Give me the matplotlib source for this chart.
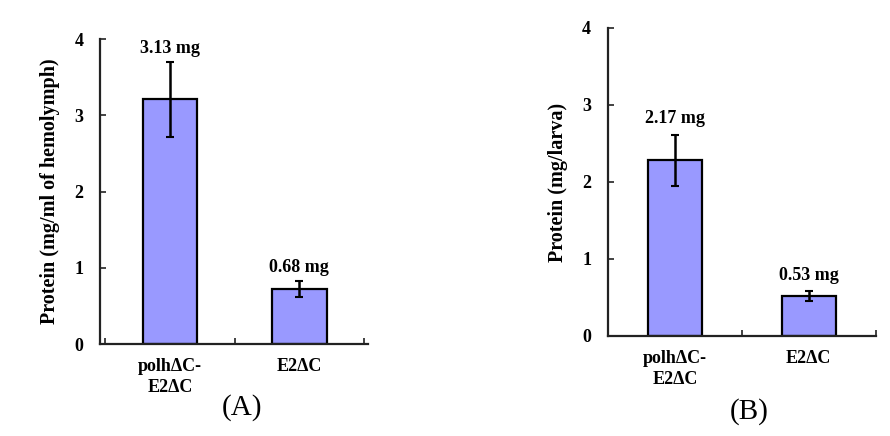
import matplotlib.pyplot as plt
import numpy as np

# data
groups = ['polhΔC-\nE2ΔC', 'E2ΔC']
hemo_vals = [3.21, 0.72]
hemo_err = [0.49, 0.11]
hemo_text = ['3.13 mg', '0.68 mg']
larva_vals = [2.28, 0.52]
larva_err = [0.33, 0.06]
larva_text = ['2.17 mg', '0.53 mg']
y_ticks = [0, 1, 2, 3, 4]

plt.rcParams['font.family'] = ['Liberation Serif', 'DejaVu Serif']

fig = plt.figure(figsize=(8.9, 4.36), dpi=100)
axA = fig.add_axes([0.1124, 0.211, 0.301, 0.6995])
axB = fig.add_axes([0.683, 0.2294, 0.301, 0.7064])


def panel(ax, vals, err, texts, ylabel, xlim, width, text_gap):
    x = np.arange(len(groups))
    ax.bar(x, vals, width=width, color='#9999ff', edgecolor='black', linewidth=1.6, zorder=2)
    ax.errorbar(x, vals, yerr=err, fmt='none', ecolor='black', elinewidth=1.8,
                capsize=3, capthick=1.5, zorder=3)
    for xi, v, e, t in zip(x, vals, err, texts):
        ax.text(xi, v + e + text_gap, t, ha='center', va='bottom',
                fontsize=13, fontweight='bold')
    ax.set_xlim(*xlim)
    ax.set_ylim(0, 4)
    ax.set_yticks(y_ticks)
    ax.set_yticklabels([str(t) for t in y_ticks], fontsize=13, fontweight='bold')
    ax.set_xticks(x)
    ax.set_xticklabels(groups, fontsize=13, fontweight='bold', linespacing=1.3)
    ax.tick_params(axis='x', length=0, pad=10)
    ax.tick_params(axis='y', direction='in', length=4, width=1.2, pad=12, color='#222222')
    ax.set_xticks([-0.5, 0.5, 1.5], minor=True)
    ax.tick_params(axis='x', which='minor', direction='in', length=4, width=1.2, color='#222222')
    ax.set_ylabel(ylabel, fontsize=14.5, fontweight='bold', labelpad=10)
    for s in ['top', 'right']:
        ax.spines[s].set_visible(False)
    for s in ['left', 'bottom']:
        ax.spines[s].set_linewidth(1.6)
        ax.spines[s].set_color('#222222')


panel(axA, hemo_vals, hemo_err, hemo_text, 'Protein (mg/ml of hemolymph)',
      (-0.54, 1.53), 0.42, 0.06)
panel(axB, larva_vals, larva_err, larva_text, 'Protein (mg/larva)',
      (-0.49, 1.48), 0.40, 0.1)

fig.text(242 / 890, 1 - 408 / 436, '(A)', ha='center', va='center', fontsize=21)
fig.text(749 / 890, 1 - 412 / 436, '(B)', ha='center', va='center', fontsize=21)

fig.savefig('out.png', dpi=100)
